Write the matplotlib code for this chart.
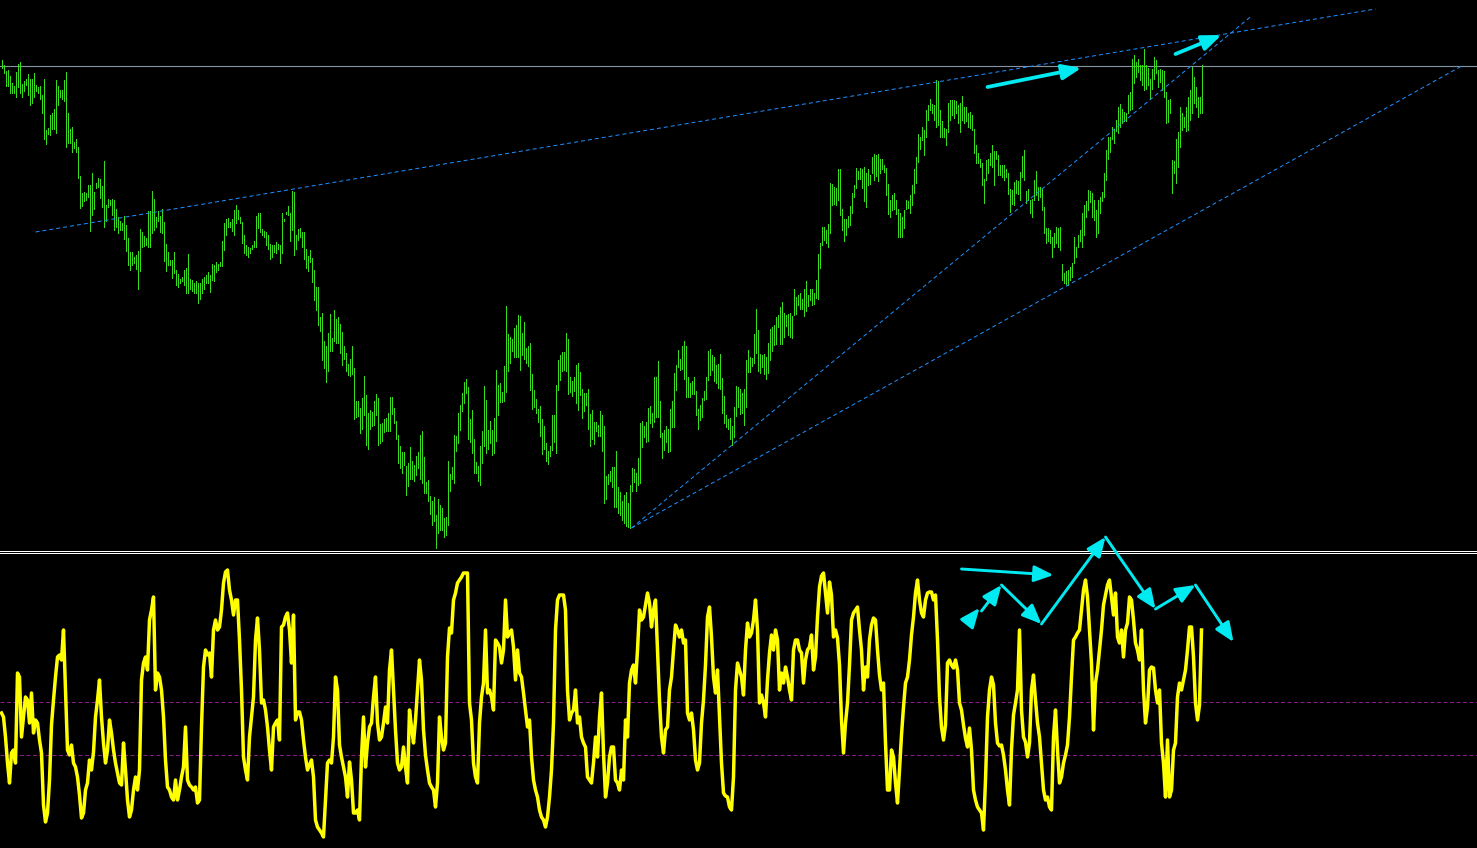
import numpy as np
import matplotlib
matplotlib.use("Agg")
import matplotlib.pyplot as plt

# price bars: top / bottom of every bar (pane units, measured down from the top)
bar_high = [
    60, 65, 71, 70, 76, 83, 86, 72, 64, 62,
    84, 81, 79, 74, 79, 79, 73, 85, 87, 86,
    95, 79, 130, 128, 115, 113, 109, 80, 86, 90,
    90, 80, 72, 113, 129, 127, 142, 139, 147, 176,
    193, 192, 193, 185, 185, 173, 192, 183, 178, 179,
    186, 161, 205, 199, 200, 199, 200, 209, 217, 221,
    223, 216, 225, 238, 252, 252, 257, 255, 251, 229,
    232, 236, 238, 211, 211, 191, 199, 217, 211, 216,
    209, 222, 244, 252, 260, 260, 252, 270, 274, 279,
    277, 270, 268, 254, 279, 280, 283, 281, 283, 283,
    279, 277, 275, 272, 275, 264, 265, 262, 264, 262,
    241, 223, 219, 218, 222, 219, 210, 205, 210, 217,
    222, 235, 245, 247, 248, 245, 241, 216, 213, 213,
    229, 231, 232, 235, 244, 245, 245, 242, 244, 245,
    213, 219, 212, 206, 213, 191, 192, 235, 229, 228,
    232, 232, 249, 256, 250, 258, 270,
    287, 287, 317, 313, 341, 346, 333, 314, 338, 310,
    319, 317, 324, 332, 346, 353, 364, 359, 346, 368,
    401, 401, 408, 398, 376, 395, 413, 410, 412, 401,
    394, 398, 424, 423, 419, 418, 413, 397, 397, 408,
    421, 435, 446, 452, 452, 466, 463, 447, 461, 465,
    456, 452, 435, 431, 457, 482, 480, 496, 501, 497,
    515, 499, 505, 508, 518, 517, 461, 474, 467, 435,
    436, 413, 405, 393, 382, 379, 387, 419, 410, 439,
    462, 466, 446, 431, 386, 400, 430, 421, 430, 418,
    370, 385, 383, 392, 366, 306, 334, 337, 339, 328,
    325, 315, 316, 333, 322, 348, 346, 343, 374, 390,
    399, 409, 406, 419, 426, 443, 451, 446, 415, 415,
    385, 360, 355, 352, 352, 333, 339, 377, 381, 377,
    365, 363, 372, 389, 393, 393, 389, 414, 410, 422,
    422, 425, 411,
    415, 426, 476, 474, 471, 467, 467, 451, 487, 492,
    501, 495, 492, 503, 485, 468, 469, 473, 458, 423,
    421, 426, 422, 408, 406, 413, 377, 377, 361, 401,
    433, 430, 426, 429, 409, 401, 373, 365, 350, 359,
    346, 341, 346, 377, 383, 381, 377, 391, 409, 405,
    398, 391, 377, 351, 349, 355, 357, 365, 364, 354,
    378, 396, 415, 419, 418, 426, 407, 386, 387, 389,
    393, 389, 360, 350, 357, 358, 334, 309, 330, 354,
    355, 354, 357, 343, 329, 327, 325, 317, 315, 307,
    302, 313, 315, 314, 313, 316, 289, 297, 295, 293,
    299, 289, 281, 295, 289, 289, 293, 280, 254, 243,
    227, 227, 230, 224, 183, 184, 187, 188, 169, 169,
    209, 219, 219, 216, 206, 193, 185, 168, 171, 168,
    169, 167, 173, 169, 175, 157, 154, 155, 154, 159,
    159, 165, 168, 184, 200, 195, 193, 200, 209, 213,
    217, 210, 200, 201, 195, 185, 169, 157, 134, 137,
    127, 130, 110, 105, 99, 104, 105, 80, 81, 110,
    121, 128, 129, 103, 100, 100, 100, 101, 105, 103,
    96, 107, 107, 113, 112, 115, 129, 145, 153, 159,
    163, 179, 160, 159, 153, 145, 151, 151, 155, 165,
    165, 165, 169, 173, 189, 190, 182, 180, 181, 172,
    156, 150, 191, 189, 200, 199, 180, 171, 187, 187,
    189, 207, 228, 228, 230, 237, 233, 227, 228, 227,
    264, 273, 271, 270, 267, 263, 237, 247, 235, 230,
    213, 205, 201, 190, 191, 193, 200, 210, 200, 197,
    192, 173, 150, 137, 137, 127, 129, 120, 107, 104,
    109, 112, 113, 95, 92, 59, 55, 62, 59, 65,
    65, 49, 65, 68, 79, 69, 57, 60, 70, 69,
    70, 71, 92, 100, 99, 160, 161, 139, 132, 107,
    113, 117, 107, 97, 90, 67, 77, 87, 97, 97,
    65,
]
bar_low = [
    68, 73, 86, 86, 93, 93, 93, 97, 87, 93,
    97, 91, 85, 95, 105, 103, 97, 91, 93, 99,
    113, 139, 144, 134, 135, 129, 129, 133, 105, 97,
    99, 101, 147, 143, 143, 152, 148, 152, 178, 208,
    206, 201, 200, 197, 231, 215, 209, 188, 187, 198,
    207, 227, 221, 207, 205, 215, 230, 227, 233, 230,
    230, 239, 251, 265, 270, 265, 263, 269, 289, 271,
    247, 246, 245, 247, 247, 233, 230, 227, 221, 232,
    233, 261, 271, 265, 265, 278, 273, 285, 287, 283,
    281, 285, 293, 293, 289, 291, 293, 293, 303, 299,
    293, 289, 283, 283, 292, 280, 281, 272, 270, 266,
    266, 250, 235, 227, 227, 231, 235, 223, 219, 223,
    243, 253, 255, 257, 253, 249, 247, 247, 228, 232,
    235, 237, 245, 249, 259, 257, 252, 253, 249, 263,
    253, 221, 214, 215, 241, 230, 255, 249, 240, 237,
    247, 259, 268, 271, 262, 282, 300,
    310, 325, 331, 360, 368, 382, 371, 351, 351, 341,
    343, 343, 353, 365, 359, 371, 375, 376, 374, 419,
    417, 416, 433, 429, 415, 445, 449, 429, 426, 425,
    415, 445, 443, 441, 432, 431, 431, 431, 414, 423,
    439, 463, 468, 473, 465, 495, 486, 479, 479, 481,
    475, 468, 479, 483, 493, 493, 501, 514, 525, 521,
    548, 533, 530, 530, 537, 535, 525, 491, 479, 483,
    451, 443, 430, 411, 403, 393, 439, 442, 453, 473,
    473, 481, 485, 463, 446, 453, 449, 443, 455, 453,
    441, 415, 402, 402, 401, 392, 371, 363, 351, 357,
    357, 357, 370, 355, 359, 363, 366, 390, 409, 407,
    413, 422, 436, 454, 449, 461, 464, 456, 450, 442,
    453, 390, 380, 371, 370, 371, 394, 392, 396, 391,
    403, 410, 395, 418, 411, 405, 429, 446, 439, 444,
    431, 436, 436,
    451, 503, 499, 484, 481, 487, 507, 507, 513, 515,
    520, 523, 526, 527, 528, 491, 482, 491, 485, 483,
    447, 437, 442, 441, 423, 427, 422, 417, 417, 437,
    458, 450, 442, 452, 451, 427, 427, 390, 367, 370,
    369, 379, 397, 397, 397, 394, 394, 415, 429, 420,
    417, 400, 399, 380, 375, 370, 381, 383, 388, 389,
    413, 423, 427, 429, 439, 445, 437, 416, 407, 414,
    413, 425, 407, 372, 372, 366, 363, 353, 371, 373,
    367, 374, 379, 373, 360, 351, 345, 344, 327, 344,
    344, 337, 326, 335, 337, 338, 315, 314, 305, 309,
    309, 316, 311, 306, 300, 305, 304, 298, 299, 268,
    245, 240, 243, 247, 233, 205, 204, 205, 200, 215,
    230, 241, 235, 227, 225, 213, 197, 188, 179, 179,
    188, 201, 207, 185, 184, 173, 180, 176, 181, 173,
    169, 172, 195, 214, 217, 210, 209, 214, 237, 237,
    237, 228, 209, 208, 213, 205, 193, 183, 162, 149,
    140, 155, 137, 120, 110, 113, 120, 127, 125, 137,
    137, 137, 145, 132, 120, 115, 118, 113, 123, 132,
    120, 123, 121, 127, 128, 130, 153, 163, 163, 167,
    185, 203, 180, 173, 165, 167, 185, 159, 175, 175,
    177, 180, 177, 194, 212, 204, 205, 193, 194, 200,
    177, 180, 203, 200, 213, 217, 200, 195, 200, 197,
    210, 233, 243, 241, 243, 257, 247, 243, 247, 250,
    280, 283, 284, 285, 280, 277, 263, 257, 247, 241,
    247, 235, 217, 210, 202, 217, 220, 237, 233, 213,
    201, 197, 180, 159, 152, 139, 143, 131, 133, 127,
    123, 121, 121, 113, 110, 109, 83, 77, 72, 80,
    85, 90, 89, 85, 99, 89, 79, 73, 87, 82,
    90, 97, 123, 122, 113, 193, 173, 183, 167, 147,
    130, 127, 131, 130, 120, 113, 103, 107, 117, 113,
    113,
]

# oscillator, one value per bar (indicator pane units, measured down from the top)
osc = [
    713, 717, 737, 763, 783, 753, 750, 763, 673, 677,
    737, 717, 697, 700, 723, 693, 733, 720, 723, 740,
    753, 805, 822, 813, 780, 725, 700, 677, 657, 655,
    660, 630, 690, 750, 755, 745, 763, 767, 777, 795,
    818, 813, 790, 783, 760, 770, 752, 717, 700, 680,
    717, 743, 763, 750, 720, 733, 750, 763, 773, 783,
    785, 743, 770, 800, 817, 810, 790, 777, 790, 770,
    680, 663, 657, 670, 620, 610, 597, 690, 673, 677,
    690, 717, 760, 787, 790, 797, 800, 780, 800, 790,
    777, 767, 727, 780, 785, 787, 790, 787, 803, 800,
    727, 667, 650, 655, 653, 677, 630, 620, 630, 627,
    610, 583, 572, 570, 590, 600, 615, 600, 600, 640,
    690, 757, 770, 780, 737, 717, 697, 640, 618, 650,
    703, 700, 710, 727, 750, 770, 727, 723, 720, 740,
    627, 625, 617, 613, 630, 663, 615, 720, 712, 712,
    720, 740, 757, 770, 765, 760,
    777, 820, 827, 830, 833, 837, 800, 763, 760, 763,
    737, 677, 690, 745, 757, 767, 777, 797, 762, 780,
    813, 813, 810, 820, 757, 717, 767, 743, 727, 723,
    697, 677, 723, 740, 737, 723, 707, 723, 670, 650,
    690, 730, 763, 770, 767, 747, 767, 783, 710, 727,
    743, 720, 690, 660, 680, 730, 755, 770, 783, 787,
    790, 807, 783, 717, 737, 750, 743, 657, 628, 633,
    600, 593, 583, 580, 577, 573, 573, 573, 703, 720,
    763, 777, 783, 723, 697, 683, 630, 693, 690, 697,
    710, 640, 643, 647, 663, 650, 600, 637, 633, 630,
    647, 680, 650, 673, 677, 693, 710, 727, 720, 757,
    780, 790, 797, 810, 817, 820, 827, 817, 797, 770,
    723, 630, 600, 595, 595, 595, 610, 690, 720, 713,
    710, 690, 723, 717, 737, 743, 747, 777, 780, 783,
    763, 737, 757, 717, 693, 753, 797, 783, 757, 747,
    747, 780, 783, 790, 770,
    780, 720, 737, 683, 670, 665, 683, 650, 610, 620,
    617, 605, 593, 603, 627, 610, 600, 650, 700, 737,
    753, 730, 727, 690, 677, 650, 625, 630, 637, 630,
    643, 640, 713, 720, 713, 730, 760, 770, 763, 723,
    700, 665, 617, 607, 637, 677, 693, 670, 717, 763,
    793, 796, 797, 807, 810, 777, 690, 663, 670, 677,
    695, 650, 623, 637, 633, 620, 600, 630, 703, 695,
    703, 717, 680, 653, 635, 650, 630, 640, 690, 673,
    683, 667, 677, 690, 700, 650, 640, 640, 650, 653,
    683, 660, 650, 647, 635, 670, 657, 617, 587, 576,
    573, 593, 613, 582, 595, 637, 630, 638, 665, 720,
    753, 723, 703, 665, 620, 613, 610, 607, 630, 650,
    690, 667, 677, 640, 625, 618, 620, 650, 675, 690,
    683, 743, 790, 790, 750, 757, 783, 803, 770, 735,
    707, 683, 677, 660, 635, 617, 593, 580, 600, 613,
    617, 600, 593, 592,
    592, 600, 595, 640, 697, 727, 740, 725, 663, 660,
    665, 668, 660, 670, 703, 710, 725, 738, 747, 728,
    750, 790, 800, 807, 810, 813, 830, 780, 717, 690,
    677, 685, 723, 743, 746, 745, 755, 770, 790, 805,
    750, 715, 703, 690, 630, 710, 737, 742, 757, 743,
    690, 675, 700, 723, 737, 763, 790, 800, 797, 807,
    810, 737, 710, 750, 783, 777, 763, 755, 745, 717,
    677, 640, 637, 633, 630, 610, 590, 580, 597, 630,
    663, 730, 683, 670, 650, 630, 605, 595, 585, 580,
    597, 615, 593, 637, 643, 630, 657, 630, 623, 597,
    600, 620, 643, 650, 660, 630, 690, 723, 707, 670,
    667, 668, 690, 703, 690, 743, 763, 797, 740, 797,
    790, 750, 743, 697, 683, 690, 680, 670, 650, 627,
    627, 657, 703, 720, 705, 630,
]

osc_levels = [702, 755]
h_level = 66
# trend lines drawn on the chart: (bar, price) -> (bar, price)
trend_lines = [((17, 232), (687, 9)), ((315, 528), (625, 16)), ((315, 528), (731, 65))]
price_arrows = [((493, 87), (540, 68)), ((587, 54), (610, 35))]
osc_arrows = [((480, 569), (526, 575)), ((483, 623), (489, 608)), ((490, 611), (500, 585)),
              ((500, 585), (520, 624)), ((520, 624), (552, 537)), ((552, 537), (577, 609)),
              ((577, 609), (597, 585)), ((597, 585), (616, 642))]

W, H = 1477, 848
bar_color = "#36dc1e"
cyan = "#00eaf2"

fig = plt.figure(figsize=(W / 100, H / 100), dpi=100, facecolor="black")
ax1 = fig.add_axes([0, (H - 550.5) / H, 1, 550.5 / H])
ax2 = fig.add_axes([0, 0, 1, (H - 552.5) / H])

for ax in (ax1, ax2):
    ax.set_facecolor("black")
    ax.set_xlim(-0.75, 737.75)
    ax.set_xticks([])
    ax.set_yticks([])
    for s in ax.spines.values():
        s.set_visible(False)
ax1.spines["bottom"].set_visible(True)
ax1.spines["bottom"].set_color("white")
ax1.spines["bottom"].set_linewidth(0.72)
ax2.spines["top"].set_visible(True)
ax2.spines["top"].set_color("white")
ax2.spines["top"].set_linewidth(0.72)

ax1.set_ylim(550.5, 0)
ax2.set_ylim(H, 552.5)

# price pane
x = np.arange(len(bar_high))
ax1.axhline(h_level, color="#8792a2", lw=0.8, zorder=1)
ax1.vlines(x, bar_high, bar_low, colors=bar_color, lw=0.72, antialiased=False, zorder=2)
for (x0, y0), (x1, y1) in trend_lines:
    ax1.plot([x0, x1], [y0, y1], color="#1e90ff", lw=0.72, linestyle=(0, (4, 3)), zorder=3)
for start, end in price_arrows:
    ax1.annotate("", xy=end, xytext=start, annotation_clip=False,
                 arrowprops=dict(arrowstyle="-|>,head_length=0.95,head_width=0.38", color=cyan,
                                 lw=2.7, shrinkA=0, shrinkB=0, mutation_scale=12), zorder=5)

# oscillator pane
for lv in osc_levels:
    ax2.axhline(lv, color="#8b1a8b", lw=0.72, linestyle=(0, (4, 2.5)), zorder=1)
ax2.plot(np.arange(len(osc)), osc, color="#ffff00", lw=2.5, zorder=3)
for start, end in osc_arrows:
    ax2.annotate("", xy=end, xytext=start, annotation_clip=False,
                 arrowprops=dict(arrowstyle="-|>,head_length=0.9,head_width=0.38", color=cyan,
                                 lw=2.1, shrinkA=0, shrinkB=0, mutation_scale=13), zorder=5)

fig.savefig("out.png", dpi=100, facecolor="black")
